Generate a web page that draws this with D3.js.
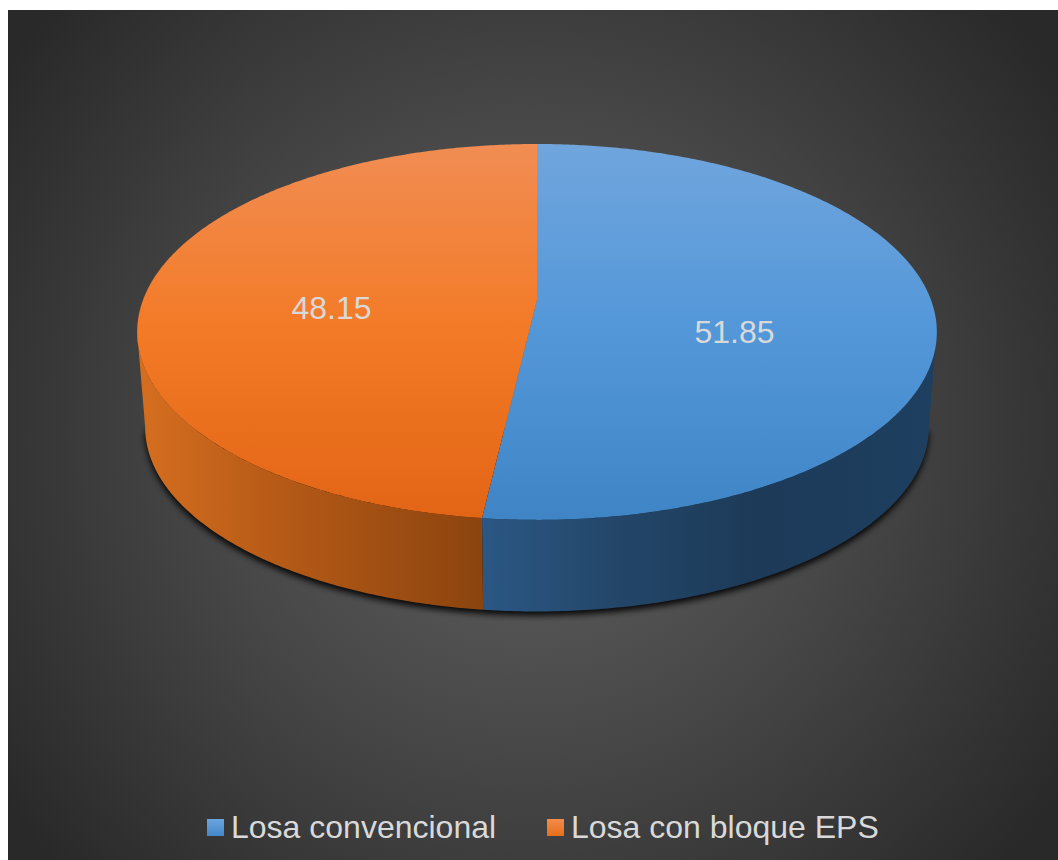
<!DOCTYPE html>
<html><head><meta charset="utf-8">
<script src="https://cdnjs.cloudflare.com/ajax/libs/d3/7.8.5/d3.min.js"></script>
<style>html,body{margin:0;padding:0;background:#fff}svg{display:block}</style>
</head><body><svg id="c" width="1058" height="860"></svg>
<script>
const categories = ["Losa convencional", "Losa con bloque EPS"];
const values = [51.85, 48.15];
const valueLabels = ["51.85", "48.15"];

const svg = d3.select("#c");
const defs = svg.append("defs");
function grad(id, attrs, stops, tag) {
  const g = defs.append(tag || "linearGradient").attr("id", id).attr("gradientUnits", "userSpaceOnUse");
  Object.entries(attrs).forEach(([k, v]) => g.attr(k, v));
  stops.forEach(([o, c]) => g.append("stop").attr("offset", o).attr("stop-color", c));
}
grad("bg", {cx: 530, cy: 435, r: 640}, [[0, "#626262"], [0.5, "#474747"], [1, "#292929"]], "radialGradient");
grad("topB", {x1: 0, x2: 0, y1: 144, y2: 520}, [[0, "#70a5dd"], [0.5, "#5397d9"], [1, "#3f85c6"]]);
grad("topO", {x1: 0, x2: 0, y1: 144, y2: 520}, [[0, "#f18d53"], [0.5, "#f37a26"], [1, "#e26515"]]);
grad("wallB", {x1: 484, x2: 937, y1: 0, y2: 0}, [[0, "#2b5784"], [0.3, "#234668"], [0.6, "#1d3a58"], [1, "#1e3f60"]]);
grad("wallO", {x1: 140, x2: 484, y1: 0, y2: 0}, [[0, "#d56e1f"], [0.4, "#b65a17"], [1, "#8b440e"]]);
grad("swB", {x1: 0, x2: 0, y1: 819, y2: 836}, [[0, "#6ba3de"], [1, "#4488cb"]]);
grad("swO", {x1: 0, x2: 0, y1: 819, y2: 836}, [[0, "#f38c4b"], [1, "#e66e1b"]]);
defs.append("filter").attr("id", "blur").attr("x", "-10%").attr("y", "-10%").attr("width", "120%").attr("height", "120%")
  .append("feGaussianBlur").attr("stdDeviation", 3.2);

svg.append("rect").attr("x", 8).attr("y", 10).attr("width", 1050).attr("height", 850).attr("fill", "url(#bg)");

// Perspective projection of the unit disc, with an angle measured clockwise from the top.
const k = 0.17, A = 394, B = 182.5, cx = 537, cy = 300, depth = 96, lowScale = 0.98;
function project(a, lower) {
  const u = Math.sin(a), v = Math.cos(a), w = 1 + k * v, s = lower ? lowScale : 1;
  return [cx + s * A * u / w, cy + (lower ? depth : 0) - s * B * v / w];
}
const line = d3.line();
const arcPts = (a0, a1, lower) => {
  const n = Math.max(2, Math.ceil(Math.abs(a1 - a0) / 0.01));
  return d3.range(n + 1).map(i => project(a0 + (a1 - a0) * i / n, lower));
};
const slices = d3.pie().sort(null)(values);
const fills = ["B", "O"];
const tanR = Math.acos(-k), tanL = 2 * Math.PI - tanR;

// Shadow beneath the visible wall
svg.append("path")
  .attr("d", line(arcPts(tanR, tanL, true).map(([x, y]) => [x, y + 4])) + "Z")
  .attr("fill", "#000").attr("opacity", 0.9).attr("filter", "url(#blur)");

// Walls
slices.forEach((s, i) => {
  const a0 = Math.max(s.startAngle, tanR), a1 = Math.min(s.endAngle, tanL);
  if (a1 <= a0) return;
  svg.append("path").attr("class", "wall")
    .attr("d", line([...arcPts(a0, a1, false), ...arcPts(a1, a0, true)]) + "Z")
    .attr("fill", `url(#wall${fills[i]})`);
});

// Top faces
slices.forEach((s, i) => {
  svg.append("path").attr("class", "slice")
    .attr("d", line([[cx, cy], ...arcPts(s.startAngle, s.endAngle, false)]) + "Z")
    .attr("fill", `url(#top${fills[i]})`);
});

// Data labels
const labelPos = [[734.5, 343], [331.5, 319]];
svg.selectAll("text.val").data(valueLabels).join("text").attr("class", "val")
  .attr("x", (d, i) => labelPos[i][0]).attr("y", (d, i) => labelPos[i][1])
  .attr("text-anchor", "middle").attr("font-family", "'Liberation Sans', Arial, sans-serif")
  .attr("font-size", 32).attr("fill", "#d9d9d9").text(d => d);

// Legend
const legX = [207, 547];
categories.forEach((c, i) => {
  svg.append("rect").attr("x", legX[i]).attr("y", 819).attr("width", 17).attr("height", 17).attr("fill", `url(#sw${fills[i]})`);
  svg.append("text").attr("x", legX[i] + 24).attr("y", 838)
    .attr("font-family", "'Liberation Sans', Arial, sans-serif").attr("font-size", 32).attr("fill", "#d9d9d9").text(c);
});
</script></body></html>
